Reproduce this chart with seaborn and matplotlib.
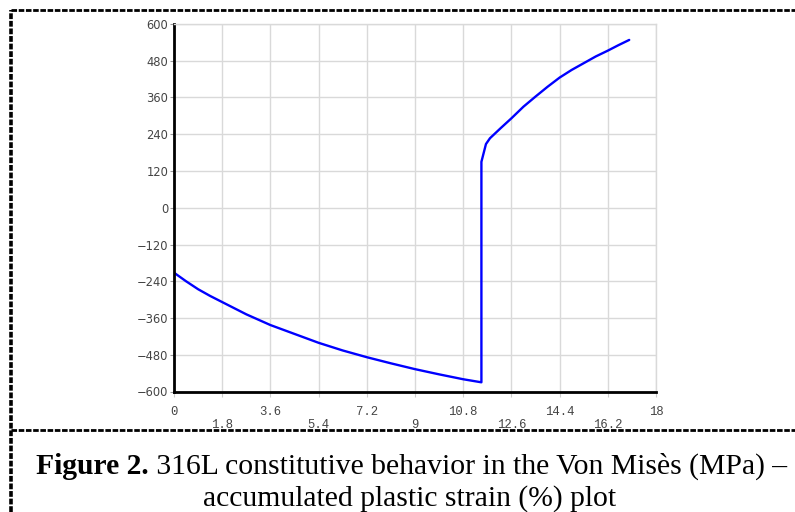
import pandas as pd
import matplotlib
matplotlib.use("Agg")
import matplotlib.pyplot as plt
from matplotlib.lines import Line2D
from matplotlib.ticker import FixedLocator
import seaborn as sns

# Data (strain in %, Von Mises stress in MPa)
strain = [0, 0.45, 0.9, 1.35, 1.8, 2.7, 3.6, 4.5, 5.4, 6.3, 7.2, 8.1, 9, 9.9, 10.8, 11.48,
          11.48, 11.65, 11.8, 12.2, 12.6, 13.05, 13.5, 13.95, 14.4, 14.85, 15.3,
          15.75, 16.2, 16.6, 17.0]
stress = [-212, -240, -266, -288, -308, -348, -383, -412, -441, -466, -488, -508, -527, -544,
          -560, -570,
          150, 208, 227, 260, 292, 330, 363, 395, 425, 450, 472, 494, 513, 531, 548]

x_major = [0, 3.6, 7.2, 10.8, 14.4, 18]
x_major_labels = ["0", "3.6", "7.2", "10.8", "14.4", "18"]
x_minor = [1.8, 5.4, 9, 12.6, 16.2]
x_minor_labels = ["1.8", "5.4", "9", "12.6", "16.2"]
y_ticks = [-600, -480, -360, -240, -120, 0, 120, 240, 360, 480, 600]

caption_bold = "Figure 2."
caption_rest = " 316L constitutive behavior in the Von Mis\u00e8s (MPa) \u2013"
caption_line2 = "accumulated plastic strain (%) plot"

df = pd.DataFrame({"strain": strain, "stress": stress})

sns.set_style("white")
W, H = 795, 512
fig = plt.figure(figsize=(W / 100, H / 100), dpi=100)
ax = fig.add_axes([174 / W, 1 - 391.5 / H, 482 / W, 367.5 / H])

sns.lineplot(data=df, x="strain", y="stress", sort=False, estimator=None,
             color="#0000ff", linewidth=1.7, ax=ax)

ax.set_xlim(0, 18)
ax.set_ylim(-600, 600)
ax.set_xlabel("")
ax.set_ylabel("")

# grid
for v in x_major + x_minor:
    ax.axvline(v, color="#d9d9d9", lw=1, zorder=0)
for v in y_ticks:
    ax.axhline(v, color="#d9d9d9", lw=1, zorder=0)

# x labels staggered on two rows
ax.xaxis.set_major_locator(FixedLocator(x_major))
ax.set_xticklabels(x_major_labels)
ax.xaxis.set_minor_locator(FixedLocator(x_minor))
ax.set_xticklabels(x_minor_labels, minor=True)
ax.set_yticks(y_ticks)
ax.set_yticklabels([str(v).replace("-", "\u2212") for v in y_ticks])

ax.tick_params(axis="x", which="major", direction="out", length=3.5, width=0.8,
               color="#cccccc", pad=7, labelsize=8.8, labelcolor="#444444", bottom=True)
ax.tick_params(axis="x", which="minor", direction="out", length=3.5, width=0.8,
               color="#cccccc", pad=16.5, labelsize=8.8, labelcolor="#444444", bottom=True)
ax.tick_params(axis="y", direction="out", length=3, width=0.8, color="#999999",
               pad=1, labelsize=8.3, labelcolor="#444444", left=True)
for lab in ax.get_xticklabels() + ax.get_xticklabels(minor=True):
    lab.set_family("Liberation Mono")

for side in ["top", "right"]:
    ax.spines[side].set_color("#d9d9d9")
    ax.spines[side].set_linewidth(1)
for side in ["left", "bottom"]:
    ax.spines[side].set_color("black")
    ax.spines[side].set_linewidth(2)

# dashed frame
fig.add_artist(Line2D([11 / W, 1], [1 - 10 / H, 1 - 10 / H], lw=2, color="black",
                      linestyle=(0, (2.0, 0.6)), transform=fig.transFigure))
fig.add_artist(Line2D([11 / W, 11 / W], [0, 1 - 10 / H], lw=2.6, color="black",
                      linestyle=(0, (1.6, 0.5)), transform=fig.transFigure))
fig.add_artist(Line2D([11 / W, 1], [1 - 430 / H, 1 - 430 / H], lw=2, color="black",
                      linestyle=(0, (2.0, 0.6)), transform=fig.transFigure))

# caption
t1 = fig.text(36 / W, 1 - 474 / H, caption_bold, family="Liberation Serif",
              fontweight="bold", fontsize=21.3, color="black", ha="left", va="baseline")
fig.add_artist(plt.Annotation(caption_rest, xy=(1, 0), xycoords=t1,
                              family="Liberation Serif", fontsize=21.3, color="black",
                              ha="left", va="bottom"))
fig.text(410 / W, 1 - 506 / H, caption_line2, family="Liberation Serif",
         fontsize=21.3, color="black", ha="center", va="baseline")

fig.savefig("out.png", dpi=100)
